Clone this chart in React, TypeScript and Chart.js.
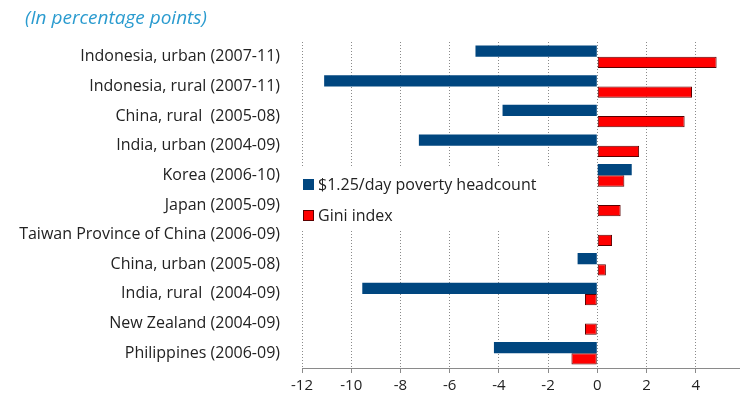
import React, { useEffect, useRef } from "react";
import { Chart, registerables } from "chart.js";

Chart.register(...registerables);

const categories = [
  "Indonesia, urban (2007-11)",
  "Indonesia, rural (2007-11)",
  "China, rural  (2005-08)",
  "India, urban (2004-09)",
  "Korea (2006-10)",
  "Japan (2005-09)",
  "Taiwan Province of China (2006-09)",
  "China, urban (2005-08)",
  "India, rural  (2004-09)",
  "New Zealand (2004-09)",
  "Philippines (2006-09)",
];
const povertyHeadcount: (number | null)[] = [-4.95, -11.1, -3.85, -7.25, 1.4, null, null, -0.8, -9.55, null, -4.2];
const giniIndex = [4.85, 3.85, 3.55, 1.7, 1.1, 0.95, 0.6, 0.35, -0.5, -0.5, -1.05];
const seriesNames = ["$1.25/day poverty headcount", "Gini index"];
const xMin = -12;
const xMax = 5.8;
const xStep = 2;
const subtitle = "(In percentage points)";

const BLUE = "#00467F";
const RED = "#FF0000";
const RED_BORDER = "#5a0000";
const FONT = "'Open Sans', sans-serif";

const legendPlugin = {
  id: "floatLegend",
  beforeDatasetsDraw(chart: any) {
    const ctx = chart.ctx;
    const left = chart.chartArea.left;
    ctx.save();
    ctx.fillStyle = "#ffffff";
    ctx.fillRect(left - 4, 168, 262, 63);
    const items = [
      { label: seriesNames[0], fill: BLUE, stroke: null, y: 184 },
      { label: seriesNames[1], fill: RED, stroke: RED_BORDER, y: 215 },
    ];
    ctx.font = `16px ${FONT}`;
    ctx.textBaseline = "middle";
    ctx.textAlign = "left";
    for (const it of items) {
      ctx.fillStyle = it.fill;
      ctx.fillRect(left + 1, it.y - 5, 11, 11);
      if (it.stroke) {
        ctx.strokeStyle = it.stroke;
        ctx.lineWidth = 1;
        ctx.strokeRect(left + 1.5, it.y - 4.5, 10, 10);
      }
      ctx.fillStyle = "#222";
      ctx.fillText(it.label, left + 16, it.y + 1);
    }
    ctx.restore();
  },
};

export default function App() {
  const ref = useRef<HTMLCanvasElement>(null);
  useEffect(() => {
    if (!ref.current) return;
    const chart = new Chart(ref.current, {
      type: "bar",
      data: {
        labels: categories,
        datasets: [
          {
            label: seriesNames[0],
            data: povertyHeadcount,
            backgroundColor: BLUE,
            borderWidth: 0,
            categoryPercentage: 0.76,
            barPercentage: 1,
          },
          {
            label: seriesNames[1],
            data: giniIndex,
            backgroundColor: RED,
            borderColor: RED_BORDER,
            borderWidth: 1,
            borderSkipped: false,
            categoryPercentage: 0.76,
            barPercentage: 1,
          },
        ],
      },
      options: {
        indexAxis: "y",
        animation: false,
        responsive: false,
        layout: { padding: { top: 42, left: 0, right: 0, bottom: 0 } },
        plugins: {
          legend: { display: false },
          tooltip: { enabled: false },
          title: { display: false },
        },
        scales: {
          x: {
            type: "linear",
            min: xMin,
            max: xMax,
            ticks: {
              stepSize: xStep,
              includeBounds: false,
              color: "#222",
              font: { family: FONT, size: 15 },
              padding: 4,
            },
            grid: {
              color: "#8a8a8a",
              lineWidth: 1,
              drawTicks: true,
              tickLength: 5,
              tickColor: "#8a8a8a",
              tickBorderDash: [],
            },
            border: { display: true, color: "#8a8a8a", width: 1, dash: [1, 2] },
            afterFit(scale: any) {
              scale.height = 35;
            },
          },
          y: {
            type: "category",
            grid: { display: false, drawTicks: false },
            border: { display: false },
            ticks: {
              color: "#222",
              font: { family: FONT, size: 16 },
              padding: 22,
            },
            afterFit(scale: any) {
              scale.width = 302;
            },
          },
        },
      } as any,
      plugins: [legendPlugin],
    });
    return () => chart.destroy();
  }, []);
  return (
    <div style={{ position: "absolute", left: 0, top: 0, width: 740, height: 403, background: "#fff" }}>
      <div
        style={{
          position: "absolute",
          left: 25,
          top: 4,
          fontFamily: FONT,
          fontStyle: "italic",
          fontSize: 19,
          color: "#2A9BCF",
          whiteSpace: "nowrap",
        }}
      >
        {subtitle}
      </div>
      <canvas ref={ref} width={740} height={403} style={{ display: "block" }} />
    </div>
  );
}
